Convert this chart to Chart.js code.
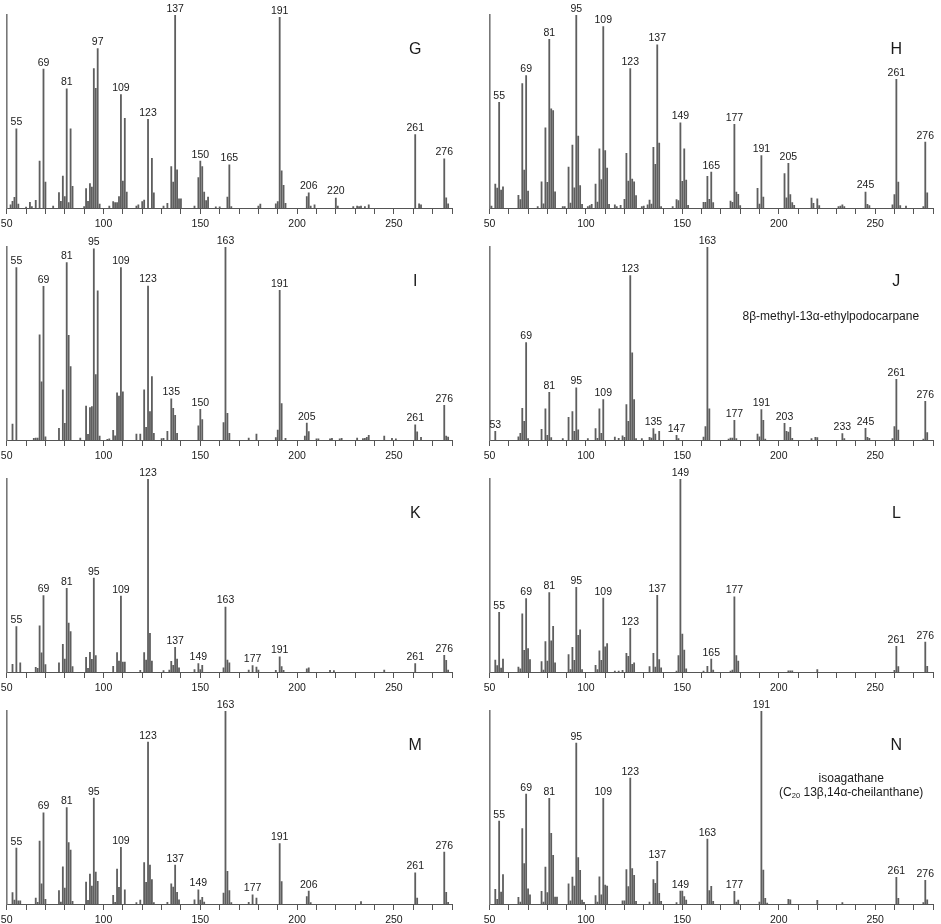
<!DOCTYPE html>
<html>
<head>
<meta charset="utf-8">
<script src="https://cdn.jsdelivr.net/npm/chart.js@4.4.1/dist/chart.umd.min.js"></script>
<style>
  html, body { margin:0; padding:0; background:#fff; overflow:hidden; }
  #wrap { position:relative; width:941px; height:924px; }
  canvas { position:absolute; }
</style>
</head>
<body>
<div id="wrap"></div>
<script>
// ---- DATA: [m/z, relative intensity %] per spectrum ----
const peaksG = [[52,1.7],[53,3.4],[54,5.5],[55,41],[56,2],[60,0.5],[62,3],[63,0.8],[65,4],[67,24.3],[69,72],[70,13.4],[74,1],[77,8],[78,3.4],[79,16.6],[80,5.9],[81,61.7],[82,2.8],[83,41],[84,11.2],[90,0.8],[91,10],[92,3.4],[93,12.6],[94,10.9],[95,72.2],[96,62],[97,82.6],[98,2],[103,1],[105,3.3],[106,2.8],[107,2.8],[108,5.9],[109,58.8],[110,14],[111,46.4],[112,8.3],[117,1],[118,1.7],[120,3.3],[121,4.1],[123,46],[125,25.7],[126,7.8],[131,1],[133,2.4],[135,21.4],[136,13.4],[137,100],[138,19.8],[139,4.8],[140,4.8],[147,1],[149,15.7],[150,24.3],[151,21.4],[152,8.3],[153,3.8],[154,5.7],[158,0.6],[160,0.6],[164,5.7],[165,22.4],[166,0.7],[180,1],[181,2],[189,2.2],[190,3.3],[191,98.8],[192,19.3],[193,11.7],[194,2.4],[205,5.9],[206,7.8],[207,1],[209,1.6],[220,5.2],[221,1],[229,0.8],[231,1],[232,0.8],[233,1],[235,0.8],[237,1.6],[261,38.1],[263,2.2],[264,1.6],[276,25.5],[277,5.3],[278,2.2]];
const labelsG = [55,69,81,97,109,123,137,150,165,191,206,220,261,276];

const peaksH = [[51,1],[53,12.4],[54,10.3],[55,54.7],[56,9.3],[57,11],[65,6.6],[66,4.3],[67,64.5],[68,19.7],[69,68.6],[70,8.8],[75,0.8],[77,13.6],[78,2.2],[79,41.6],[80,13.3],[81,87.4],[82,51.4],[83,50.5],[84,8.4],[88,0.8],[89,0.8],[91,21.2],[92,2.6],[93,32.6],[94,10.5],[95,100],[96,37.2],[97,11.6],[98,1.9],[101,0.8],[102,1.2],[103,1.9],[105,12.4],[106,3.1],[107,30.7],[108,14.7],[109,94],[110,29.8],[111,20.7],[112,1.9],[115,1.6],[116,0.8],[118,1.4],[120,4.5],[121,28.3],[122,14],[123,72.2],[124,15],[125,13.6],[126,6.4],[129,0.8],[130,1],[132,1.6],[133,4.1],[134,2],[135,31.4],[136,22.6],[137,84.5],[138,33.6],[139,0.8],[145,0.8],[147,4.3],[148,3.8],[149,44.1],[150,13.8],[151,30.7],[152,14.5],[153,1.4],[161,3],[162,3],[163,16.4],[164,4.5],[165,18.6],[166,2.8],[175,3.6],[176,2.9],[177,43.3],[178,8.3],[179,7.1],[180,1.2],[189,10.2],[190,2],[191,27.2],[192,5.7],[203,17.8],[204,5.3],[205,23.1],[206,6.9],[207,2.8],[208,1.4],[217,5.2],[218,2.4],[220,4.7],[221,1.2],[231,0.8],[232,1],[233,1.6],[234,0.8],[245,8.3],[246,1.9],[247,1.2],[259,1.6],[260,6.9],[261,66.7],[262,13.4],[263,1.2],[266,1],[275,0.8],[276,34.1],[277,7.8]];
const labelsH = [55,69,81,95,109,123,137,149,165,177,191,205,245,261,276];

const peaksI = [[53,8.3],[55,89.3],[64,0.9],[65,1],[66,1],[67,54.5],[68,30.1],[69,79.6],[70,1.7],[77,6],[79,26],[80,8.7],[81,91.9],[82,54.2],[83,38.1],[88,1],[91,17.6],[92,2.9],[93,16.8],[94,17.3],[95,99],[96,33.9],[97,77.3],[98,2],[102,0.4],[103,0.6],[105,5],[106,2.2],[107,24.4],[108,22.8],[109,89.3],[110,24.9],[117,3.1],[119,3.1],[121,26],[122,6.6],[123,79.8],[124,14.7],[125,32.9],[126,3.5],[130,0.7],[131,0.9],[133,4.5],[135,21.3],[136,16.4],[137,12.8],[138,3.5],[149,7.4],[150,15.9],[151,10.6],[162,9],[163,100],[164,13.8],[165,3.5],[175,1],[179,3.1],[189,1.2],[190,5.2],[191,77.5],[192,18.9],[194,0.9],[204,2],[205,8.8],[206,4.3],[210,0.6],[211,0.6],[217,0.6],[218,0.9],[222,0.6],[223,0.9],[231,1],[234,0.7],[235,0.9],[236,1.4],[237,2.4],[245,2],[249,0.9],[251,0.6],[261,7.8],[262,4.2],[264,1.4],[276,18],[277,2],[278,1.5]];
const labelsI = [55,69,81,95,109,123,135,150,163,191,205,261,276];

const peaksJ = [[53,4.5],[65,1.7],[66,3.4],[67,16.4],[68,9.7],[69,50.5],[70,0.7],[77,5.5],[79,16.2],[80,2.4],[81,24.7],[82,1.2],[88,0.7],[91,11.7],[93,14.7],[94,4.5],[95,27],[96,5.3],[101,0.7],[105,5.9],[106,0.9],[107,16.2],[108,3.4],[109,20.9],[115,1.5],[117,0.9],[119,2.1],[120,1.4],[121,18.3],[122,9.7],[123,85.2],[124,45.2],[125,21],[126,0.7],[129,0.7],[133,1.4],[134,1],[135,5.9],[136,3.1],[138,4.5],[147,2.4],[148,0.7],[161,1.5],[162,6.9],[163,100],[164,16.2],[174,0.5],[175,1],[176,1],[177,10.2],[178,0.7],[189,3.1],[190,1.7],[191,15.7],[192,10.2],[193,0.5],[203,8.6],[204,4.5],[205,4.1],[206,6.6],[207,0.9],[217,0.7],[219,1.4],[220,1.2],[233,3.3],[234,0.7],[245,6],[246,1.4],[247,0.9],[259,0.7],[260,6.9],[261,31.4],[262,5.2],[275,0.5],[276,20],[277,3.8]];
const labelsJ = [53,69,81,95,109,123,135,147,163,177,191,203,233,245,261,276];

const peaksK = [[53,4],[55,23.5],[57,4.8],[65,2.4],[66,1.9],[67,23.9],[68,9.9],[69,39.6],[70,3.8],[77,4.7],[79,14.4],[80,6.7],[81,43.4],[82,25.4],[83,20.9],[84,2.8],[91,7.6],[92,1.9],[93,10.2],[94,6.6],[95,48.6],[96,8.5],[105,2.9],[107,10],[108,5.7],[109,39.3],[110,5.2],[111,5.2],[119,0.9],[121,10],[122,6.2],[123,100],[124,20.1],[125,5.7],[131,0.7],[134,1],[135,5.5],[136,3.5],[137,12.8],[138,6.7],[139,2.1],[147,1.2],[149,4.3],[150,1.2],[151,3.5],[162,2.1],[163,33.7],[164,6.2],[165,4.7],[175,1],[177,3.3],[179,2.6],[180,1],[189,0.9],[191,7.8],[192,2.8],[193,0.9],[205,1.7],[206,2.1],[217,0.9],[219,0.7],[245,1],[261,4.3],[276,8.7],[277,6.1],[278,1]];
const labelsK = [55,69,81,95,109,123,137,149,163,177,191,261,276];

const peaksL = [[53,6.2],[54,3.3],[55,30.9],[56,2],[57,6.7],[65,2.6],[66,1.7],[67,30.2],[68,11.2],[69,38],[70,12.1],[71,6.4],[77,5.4],[78,1],[79,15.7],[80,5.7],[81,41.1],[82,16.2],[83,23.7],[84,4.8],[91,9],[92,1.2],[93,12.8],[94,6],[95,43.9],[96,19],[97,21.9],[98,1.2],[105,3.5],[106,1.2],[107,11],[108,6],[109,38.3],[110,13],[111,14.7],[115,0.5],[117,0.5],[119,0.9],[121,9.7],[122,8.1],[123,22.6],[124,4],[125,4.7],[133,2.8],[135,9.7],[136,2.6],[137,39.7],[138,6.4],[139,2.2],[147,0.5],[148,8.5],[149,100],[150,19.7],[151,11.4],[152,1.7],[161,0.5],[163,2.9],[165,6.7],[166,1],[175,0.5],[176,1],[177,39],[178,8.5],[179,5.7],[205,0.6],[206,0.6],[207,0.6],[220,1.2],[260,0.9],[261,13.3],[262,2.8],[276,15.5],[277,2.9]];
const labelsL = [55,69,81,95,109,123,137,149,165,177,261,276];

const peaksM = [[53,5.9],[54,2],[55,29],[56,1.7],[57,1.7],[65,3.1],[66,0.9],[67,32.6],[68,10.5],[69,47.3],[70,2.4],[77,6.9],[78,1],[79,19.2],[80,8.3],[81,49.9],[82,31.8],[83,28],[84,1.4],[91,11.4],[92,1.9],[93,15.5],[94,9.3],[95,54.9],[96,16.6],[97,11.7],[105,4.5],[106,0.9],[107,18.1],[108,8.6],[109,29.4],[111,7.4],[117,0.7],[119,2],[121,21.4],[122,11.2],[123,83.9],[124,20.2],[125,12.6],[126,0.7],[133,0.9],[135,10.4],[136,8.8],[137,20.2],[138,6],[139,2.2],[147,2.2],[149,7.4],[150,2],[151,3.5],[152,1],[162,5.7],[163,100],[164,16.9],[165,6.9],[166,0.7],[175,0.9],[177,4.8],[179,3.1],[191,31.3],[192,11.6],[205,3.8],[206,6.7],[207,0.7],[233,1.2],[261,16.1],[262,3.1],[276,26.9],[277,6],[278,0.9]];
const labelsM = [55,69,81,95,109,123,137,149,163,177,191,206,261,276];

const peaksN = [[53,7.6],[54,2.4],[55,42.9],[56,6.2],[57,15.3],[65,3.4],[66,1],[67,39.1],[68,21],[69,56.9],[70,7.9],[71,4.7],[77,6.6],[78,1],[79,19.1],[80,5.9],[81,54.7],[82,36.6],[83,25.2],[84,3.6],[85,3.6],[91,10.5],[92,1.7],[93,14],[94,9.3],[95,83.4],[96,24.1],[97,17.4],[98,2],[99,0.9],[105,4.3],[106,1],[107,14.1],[108,4.8],[109,54.7],[110,9.8],[111,9.3],[119,1.7],[120,1.7],[121,17.8],[122,9],[123,65.2],[124,18.4],[125,14.8],[126,1.4],[133,1],[135,12.6],[136,10.7],[137,22.1],[138,5.5],[139,1.4],[147,0.7],[149,6.7],[150,6.7],[151,3.8],[152,2],[163,33.6],[164,6.9],[165,9.1],[166,1.4],[177,6.6],[178,1],[179,2],[190,1],[191,100],[192,17.6],[193,2.9],[194,0.5],[205,2.4],[206,2.2],[220,1.9],[233,0.7],[261,13.8],[262,2.9],[275,0.7],[276,12.2],[277,2.2]];
const labelsN = [55,69,81,95,109,123,137,149,163,177,191,261,276];

const xMin = 50, xMax = 280, xStep = 10, xLabelEvery = 50;

// ---- PANELS ----
const FONT = "'Liberation Sans', Arial, Helvetica, sans-serif";
const BAR = '#5e5e5e';
const panels = [
  {name:'G', peaks:peaksG, labels:labelsG, col:0, row:0},
  {name:'H', peaks:peaksH, labels:labelsH, col:1, row:0},
  {name:'I', peaks:peaksI, labels:labelsI, col:0, row:1},
  {name:'J', peaks:peaksJ, labels:labelsJ, col:1, row:1, note:['8β-methyl-13α-ethylpodocarpane'], noteAt:[227, 63.8]},
  {name:'K', peaks:peaksK, labels:labelsK, col:0, row:2},
  {name:'L', peaks:peaksL, labels:labelsL, col:1, row:2},
  {name:'M', peaks:peaksM, labels:labelsM, col:0, row:3},
  {name:'N', peaks:peaksN, labels:labelsN, col:1, row:3, note:['isoagathane','SUB'], noteAt:[237.6, 64.7]}
];

const annotate = {
  id:'annotate',
  afterDatasetsDraw(chart, args, opts) {
    const ctx = chart.ctx, xs = chart.scales.x, ys = chart.scales.y;
    const p = opts.panel;
    const map = new Map(p.peaks.map(d => [d[0], d[1]]));
    ctx.save();
    ctx.fillStyle = '#1a1a1a';
    ctx.font = '10.5px ' + FONT;
    ctx.textAlign = 'center';
    ctx.textBaseline = 'alphabetic';
    p.labels.forEach(mz => {
      const v = map.get(mz) || 0;
      ctx.fillText(String(mz), xs.getPixelForValue(mz), ys.getPixelForValue(v) - 3.5);
    });
    // panel letter
    ctx.font = '16px ' + FONT;
    ctx.textBaseline = 'middle';
    ctx.fillText(p.name, xs.getPixelForValue(261), ys.getPixelForValue(82));
    // compound names
    if (p.note) {
      ctx.font = '12px ' + FONT;
      const cx = xs.getPixelForValue(p.noteAt[0]);
      ctx.fillText(p.note[0], cx, ys.getPixelForValue(p.noteAt[1]));
      if (p.note[1] === 'SUB') {
        const y2 = ys.getPixelForValue(p.noteAt[1] - 6.9);
        const a = '(C', b = '20', c = ' 13β,14α-cheilanthane)';
        ctx.font = '12px ' + FONT; const wa = ctx.measureText(a).width, wc = ctx.measureText(c).width;
        ctx.font = '7.5px ' + FONT; const wb = ctx.measureText(b).width;
        let x0 = cx - (wa + wb + wc) / 2;
        ctx.textAlign = 'left';
        ctx.font = '12px ' + FONT; ctx.fillText(a, x0, y2);
        ctx.font = '7.5px ' + FONT; ctx.fillText(b, x0 + wa, y2 + 3.5);
        ctx.font = '12px ' + FONT; ctx.fillText(c, x0 + wa + wb, y2);
      }
    }
    ctx.restore();
  }
};

const wrap = document.getElementById('wrap');
panels.forEach(p => {
  const cv = document.createElement('canvas');
  const w = p.col === 0 ? 470 : 471, h = 232;
  cv.width = w; cv.height = h;
  cv.style.left = (p.col === 0 ? 0 : 470) + 'px';
  cv.style.top = (p.row * 232) + 'px';
  cv.style.width = w + 'px'; cv.style.height = h + 'px';
  wrap.appendChild(cv);
  const pad = p.col === 0 ? {left:6.7, right:18, top:15, bottom:0} : {left:19.5, right:8, top:15, bottom:0};
  new Chart(cv.getContext('2d'), {
    type:'bar',
    data:{ datasets:[{
      data: p.peaks.map(d => ({x:d[0], y:d[1]})),
      backgroundColor: BAR, borderWidth:0, barThickness:1.15, grouped:false
    }]},
    options:{
      responsive:false, animation:false, devicePixelRatio:1,
      layout:{ padding: pad },
      plugins:{ legend:{display:false}, tooltip:{enabled:false}, annotate:{panel:p} },
      scales:{
        x:{ type:'linear', min:xMin, max:xMax, offset:false,
          ticks:{ stepSize:xStep, autoSkip:false, maxRotation:0, minRotation:0, padding:4,
            color:'#1a1a1a', font:{size:10.5, family:FONT},
            callback: v => (v % xLabelEvery === 0 ? String(v) : '') },
          grid:{ display:true, drawOnChartArea:false, drawTicks:true, tickLength:6, color:'#555', lineWidth:1, offset:false },
          border:{ display:true, color:'#555', width:1 },
          afterFit: s => { s.height = 24; s.paddingLeft = 0; s.paddingRight = 0; }
        },
        y:{ min:0, max:100, display:true,
          ticks:{ display:false }, grid:{ display:false, drawTicks:false },
          border:{ display:true, color:'#777', width:1.6 },
          afterFit: s => { s.width = 0; s.paddingTop = 0; s.paddingBottom = 0; }
        }
      }
    },
    plugins:[annotate]
  });
});
</script>
</body>
</html>
